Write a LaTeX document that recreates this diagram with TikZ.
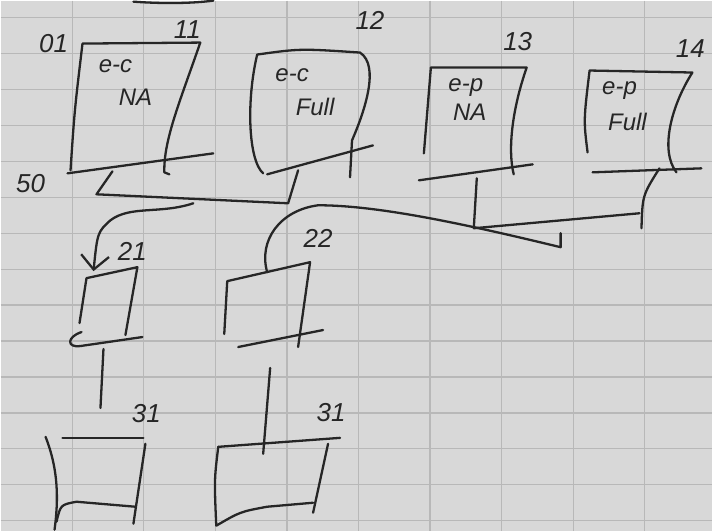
\documentclass[tikz,border=0pt]{standalone}
\usepackage{fontspec}
\setmainfont{Liberation Sans}
\usepackage{xcolor}
\definecolor{paper}{HTML}{D8D8D8}
\definecolor{gridline}{HTML}{B8B8B8}
\definecolor{pen}{HTML}{262626}
\usetikzlibrary{arrows.meta}

\tikzset{
  ink/.style={pen,line width=2.3pt,line cap=round,line join=round},
  tag/.style={pen,font=\fontsize{26}{27}\selectfont\itshape,inner sep=0pt},
  note/.style={pen,font=\fontsize{24}{25}\selectfont\itshape,inner sep=0pt},
}

\begin{document}
\begin{tikzpicture}[x=1pt,y=-1pt]
  % graph paper
  \fill[paper] (0,0) rectangle (713,531);
  \foreach \gx in {1,...,9}
    \draw[gridline,line width=1.3pt] (71.7*\gx,0) -- (71.7*\gx,531);
  \foreach \gy in {0,...,14}
    \draw[gridline,line width=1.3pt] (0,17+36*\gy) -- (713,17+36*\gy);
  \useasboundingbox (0,0) rectangle (713,531);
  \draw[ink] (133,1) .. controls (160,3) and (190,3) .. (213,0);

  % 11: e-c NA
  \coordinate (b11tl) at (82,43);
  \coordinate (b11tr) at (200,42);
  \coordinate (b11bl) at (70,170);
  \coordinate (b11br) at (164,172);
  \draw[ink] (b11bl) .. controls (74,110) .. (b11tl) -- (b11tr)
    .. controls (180,100) and (163,140) .. (b11br) -- ++(5,2);
  \draw[ink] (67,173) -- (213,153);
  \node[tag] (t01) at (53,43) {01};
  \node[tag] (t11) at (187,29) {11};
  \node[tag] (t50) at (30,183) {50};
  \node[note] (b11a) at (115,66) {e-c};
  \node[note] (b11b) at (135,97) {NA};

  % 12: e-c Full
  \coordinate (b12tl) at (257,54);
  \coordinate (b12tr) at (360,52);
  \coordinate (b12bl) at (263,173);
  \coordinate (b12br) at (350,177);
  \draw[ink] (b12bl) .. controls (248,160) and (246,100) .. (b12tl)
    .. controls (300,48) .. (b12tr)
    .. controls (380,65) and (365,110) .. (352,140) -- (b12br);
  \draw[ink] (267,174) -- (373,145);
  \node[tag] (t12) at (370,20) {12};
  \node[note] (b12a) at (292,75) {e-c};
  \node[note] (b12b) at (315,106) {Full};

  % 13: e-p NA
  \coordinate (b13tl) at (431,67);
  \coordinate (b13tr) at (527,67);
  \coordinate (b13bl) at (424,153);
  \coordinate (b13br) at (514,174);
  \draw[ink] (b13bl) -- (b13tl) -- (b13tr)
    .. controls (512,110) and (508,150) .. (b13br);
  \draw[ink] (419,180) -- (533,164);
  \node[tag] (t13) at (518,41) {13};
  \node[note] (b13a) at (466,87) {e-p};
  \node[note] (b13b) at (470,112) {NA};

  % 14: e-p Full
  \coordinate (b14tl) at (590,70);
  \coordinate (b14tr) at (693,72);
  \coordinate (b14bl) at (588,152);
  \coordinate (b14br) at (677,172);
  \draw[ink] (b14bl) .. controls (584,120) .. (b14tl) -- (b14tr)
    .. controls (672,105) and (660,150) .. (b14br);
  \draw[ink] (593,172) -- (702,168);
  \node[tag] (t14) at (691,48) {14};
  \node[note] (b14a) at (620,90) {e-p};
  \node[note] (b14b) at (628,122) {Full};

  % joins under the top row
  \coordinate (j11) at (112,171);
  \coordinate (j12) at (298,170);
  \coordinate (j13) at (477,178);
  \coordinate (j14) at (660,168);
  \coordinate (j14end) at (642,228);
  \draw[ink] (j11) -- (96,194) -- (288,203) -- (j12);
  \draw[ink] (j13) -- (474,228) -- (640,213);
  \draw[ink] (j14) .. controls (643,195) .. (j14end);

  % 21
  \coordinate (b21tl) at (86,278);
  \coordinate (b21tr) at (137,267);
  \coordinate (b21bl) at (79,323);
  \coordinate (b21br) at (125,335);
  \draw[ink] (b21bl) -- (b21tl) -- (b21tr) -- (b21br);
  \draw[ink] (81,332) .. controls (66,337) and (66,348) .. (80,346)
    -- (142,337);
  \node[tag] (t21) at (132,251) {21};
  \coordinate (arrA) at (193,203);
  \draw[ink,-{Straight Barb[length=14pt,width=28pt,line width=2.3pt]}]
    (arrA) .. controls (160,214) and (130,205) .. (110,220)
    .. controls (97,232) .. (93,271);

  % 22
  \coordinate (b22tl) at (227,281);
  \coordinate (b22tr) at (310,262);
  \coordinate (b22bl) at (224,334);
  \coordinate (b22br) at (298,347);
  \coordinate (b22top) at (267,272);
  \draw[ink] (b22bl) -- (b22tl) -- (b22tr) -- (b22br);
  \draw[ink] (238,347) -- (323,330);
  \node[tag] (t22) at (318,238) {22};
  \coordinate (lineend) at (561,247);
  \draw[ink] (b22top) .. controls (258,240) and (280,210) .. (318,205)
    .. controls (380,205) and (470,225) .. (lineend) -- ++(0,-14);

  % 31 (left)
  \coordinate (c1tl) at (45,437);
  \coordinate (c1tr) at (143,438);
  \coordinate (c1br) at (133,524);
  \draw[ink] (c1tl) .. controls (58,470) and (58,500) .. (54,530);
  \draw[ink] (62,438) -- (c1tr);
  \draw[ink] (145,444) -- (c1br);
  \draw[ink] (56,522) .. controls (60,505) .. (76,502) -- (135,507);
  \draw[ink] (103,349) -- (100,408);
  \node[tag] (t31a) at (146,414) {31};

  % 31 (right)
  \coordinate (c2tl) at (218,447);
  \coordinate (c2tr) at (340,438);
  \coordinate (c2br) at (313,513);
  \draw[ink] (c2tl) -- (c2tr);
  \draw[ink] (c2tl) .. controls (214,480) .. (216,526)
    .. controls (240,512) .. (267,507) -- (313,503);
  \draw[ink] (328,444) -- (c2br);
  \draw[ink] (270,368) -- (263,454);
  \node[tag] (t31b) at (331,413) {31};
\end{tikzpicture}
\end{document}
